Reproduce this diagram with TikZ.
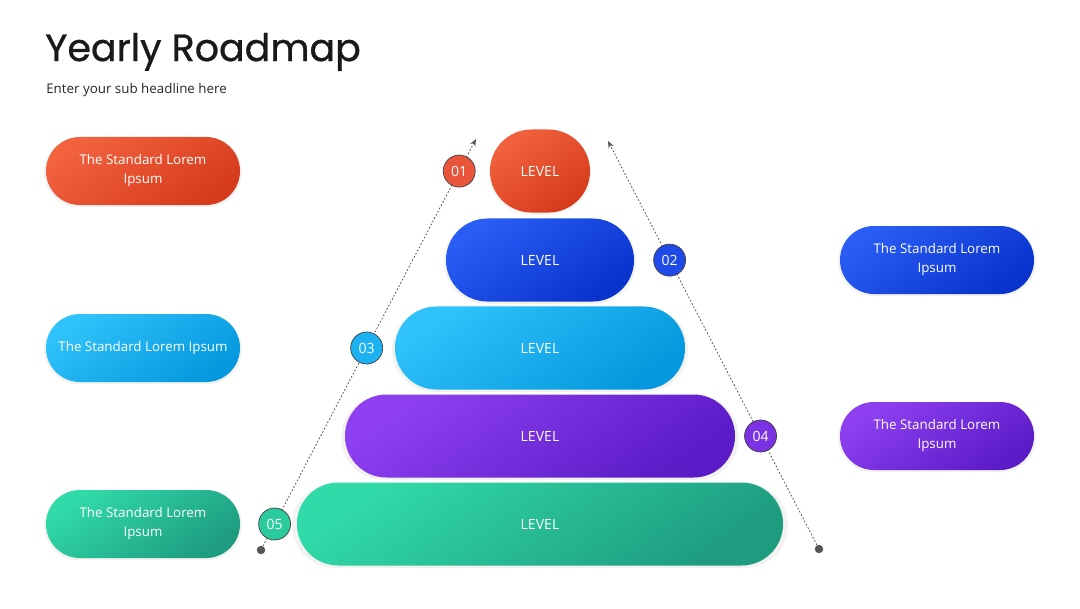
\documentclass[tikz,border=0pt]{standalone}
\usepackage{fontspec}
\setmainfont{Open Sans}
\newfontfamily\titlefont{Poppins}[FakeBold=0.8]
\usetikzlibrary{calc, positioning}
\usetikzlibrary{arrows.meta}
\usetikzlibrary{shapes.misc, shadows}
\definecolor{lvorangeT}{HTML}{F2623F}
\definecolor{lvorangeB}{HTML}{D63B1B}
\definecolor{lvorangeC}{HTML}{E8553A}
\definecolor{lvblueT}{HTML}{2A5DF6}
\definecolor{lvblueB}{HTML}{0833CC}
\definecolor{lvblueC}{HTML}{1F4AE8}
\definecolor{lvcyanT}{HTML}{30C2FA}
\definecolor{lvcyanB}{HTML}{0598DE}
\definecolor{lvcyanC}{HTML}{1CB2F2}
\definecolor{lvpurpleT}{HTML}{8E40F0}
\definecolor{lvpurpleB}{HTML}{5B1BC6}
\definecolor{lvpurpleC}{HTML}{7B32E2}
\definecolor{lvgreenT}{HTML}{31DAA9}
\definecolor{lvgreenB}{HTML}{1E9C80}
\definecolor{lvgreenC}{HTML}{2CCB9E}
\definecolor{guidegray}{HTML}{555555}

\begin{document}
\begin{tikzpicture}[
                x=0.025cm, y=-0.025cm,
                >=Stealth,
                halo/.style={drop shadow={shadow xshift=0pt, shadow yshift=-1pt, opacity=0.10, shadow scale=1.02}},
                pill/.style={rounded rectangle, minimum width=4.85cm, minimum height=1.7cm, inner sep=0pt,
                align=center, text=white, font=\fontsize{9.5}{13.5}\selectfont, halo},
                levelbox/.style={rounded rectangle, minimum height=2.075cm, inner sep=0pt,
                text=white, font=\fontsize{10}{12}\selectfont, halo},
                numdot/.style={circle, minimum size=0.8cm, inner sep=0pt, draw=black!75, line width=0.5pt,
                text=white, font=\fontsize{10}{12}\selectfont},
                enddot/.style={circle, fill=guidegray, minimum size=6pt, inner sep=0pt},
                guide/.style={draw=guidegray, line width=0.6pt, dash pattern=on 1.2pt off 1.4pt},
                ]

                \useasboundingbox (0,0) rectangle (1080,608);

                % ── Heading ──
                \node[anchor=base west, inner sep=0pt, font=\titlefont\fontsize{27}{30}\selectfont, text=black!90]
                    (title) at (45,61) {Yearly Roadmap};
                \node[anchor=base west, inner sep=0pt, font=\fontsize{9.5}{11}\selectfont, text=black!85]
                    (subtitle) at (46,93) {Enter your sub headline here};

                % ── Pyramid levels (centre x = 540) ──
                \foreach \i/\y/\w/\c in {1/171/2.5/orange, 2/260/4.7/blue, 3/348/7.25/cyan,
                                         4/436/9.75/purple, 5/524/12.15/green} {
                    \node[levelbox, minimum width=\w cm, top color=lv\c T, bottom color=lv\c B, shading angle=35]
                        (lv\i) at (540,\y) {LEVEL};
                }

                % ── Side pills ──
                \foreach \n/\x/\y/\c/\t in {a/143/171/orange/{The Standard Lorem\\Ipsum},
                                            b/143/348/cyan/{The Standard Lorem Ipsum},
                                            c/143/524/green/{The Standard Lorem\\Ipsum},
                                            d/937/260/blue/{The Standard Lorem\\Ipsum},
                                            e/937/436/purple/{The Standard Lorem\\Ipsum}} {
                    \node[pill, top color=lv\c T, bottom color=lv\c B, shading angle=35] (pill-\n) at (\x,\y) {\t};
                }

                % ── Dotted guides with start dots and arrow tips ──
                \node[enddot] (ldot) at (261,550) {};
                \coordinate (ltip) at (476,139);
                \node[enddot] (rdot) at (819,549) {};
                \coordinate (rtip) at (608,141);
                \draw[guide, ->, >={Stealth[length=5pt, width=4pt]}] (ldot) -- (ltip);
                \draw[guide, ->, >={Stealth[length=5pt, width=4pt]}] (rdot) -- (rtip);

                % ── Numbered markers sitting on the guides ──
                \node[numdot, fill=lvorangeC] (n1) at ($(ldot)!0.922!(ltip)$) {01};
                \node[numdot, fill=lvblueC]   (n2) at ($(rdot)!0.708!(rtip)$) {02};
                \node[numdot, fill=lvcyanC]   (n3) at ($(ldot)!0.4915!(ltip)$) {03};
                \node[numdot, fill=lvpurpleC] (n4) at ($(rdot)!0.277!(rtip)$) {04};
                \node[numdot, fill=lvgreenC]  (n5) at ($(ldot)!0.0633!(ltip)$) {05};

\end{tikzpicture}
\end{document}
